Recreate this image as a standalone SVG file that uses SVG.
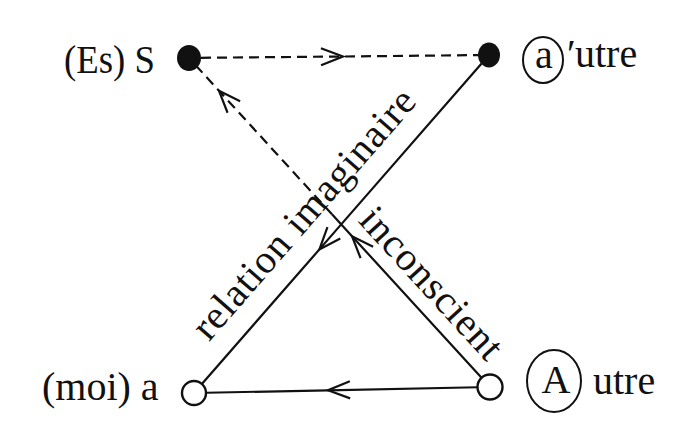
<svg xmlns="http://www.w3.org/2000/svg" width="685" height="439" viewBox="0 0 685 439">
<style>
  .lbl { font-family: "Liberation Serif", "DejaVu Serif", serif; font-size: 40px; fill: #111; }
  .edge { fill: none; stroke: #111; stroke-width: 2.2; }
  .dash { stroke-dasharray: 10 6; }
  .ring { fill: none; stroke: #111; stroke-width: 2; }
  .open { fill: #fff; stroke: #111; stroke-width: 2.4; }
  .full { fill: #111; }
</style>
<defs>
  <marker id="chev" markerUnits="userSpaceOnUse" viewBox="-26 -12 30 24" markerWidth="30" markerHeight="24" refX="0" refY="0" orient="auto">
    <path d="M-22,-8.5 L0,0 L-22,8.5" fill="none" stroke="#111" stroke-width="2.2"/>
  </marker>
</defs>
<rect width="685" height="439" fill="#fff"/>
<g id="connectors">
  <polyline class="edge dash" points="201,57.8 343,56.5 478,55.1" marker-mid="url(#chev)"/>
  <polyline class="edge" points="489,55 319.4,249.4 194,393" marker-mid="url(#chev)"/>
  <polyline class="edge" points="490,387 352,236.2 332,214.3" marker-mid="url(#chev)"/>
  <polyline class="edge dash" points="332,214.3 219,90.8 197,66.7" marker-mid="url(#chev)"/>
  <polyline class="edge" points="490,387 328,390.3 194,393" marker-mid="url(#chev)"/>
  <text class="lbl" transform="translate(313.5,222.5) rotate(-48.9)" text-anchor="middle" textLength="318" lengthAdjust="spacing">relation imaginaire</text>
  <text class="lbl" transform="translate(422,292) rotate(47.5)" text-anchor="middle" textLength="192" lengthAdjust="spacing">inconscient</text>
</g>
<g id="node-S">
  <ellipse class="full" cx="189" cy="58" rx="12" ry="13"/>
  <text class="lbl" x="64" y="73" textLength="91" lengthAdjust="spacingAndGlyphs">(Es) S</text>
</g>
<g id="node-a-prime">
  <ellipse class="full" cx="489" cy="55" rx="11" ry="12.5"/>
  <ellipse class="ring" cx="543" cy="60" rx="20" ry="23"/>
  <text class="lbl" x="544" y="68" text-anchor="middle">a</text>
  <text class="lbl" y="67"><tspan x="567">′</tspan><tspan x="575">utre</tspan></text>
</g>
<g id="node-a">
  <circle class="open" cx="194" cy="393" r="12"/>
  <text class="lbl" x="42" y="400">(moi) a</text>
</g>
<g id="node-A">
  <circle class="open" cx="490" cy="387" r="12.5"/>
  <ellipse class="ring" cx="554" cy="381" rx="27" ry="31"/>
  <text class="lbl" x="556" y="393" text-anchor="middle">A</text>
  <text class="lbl" x="593" y="394">utre</text>
</g>
</svg>
